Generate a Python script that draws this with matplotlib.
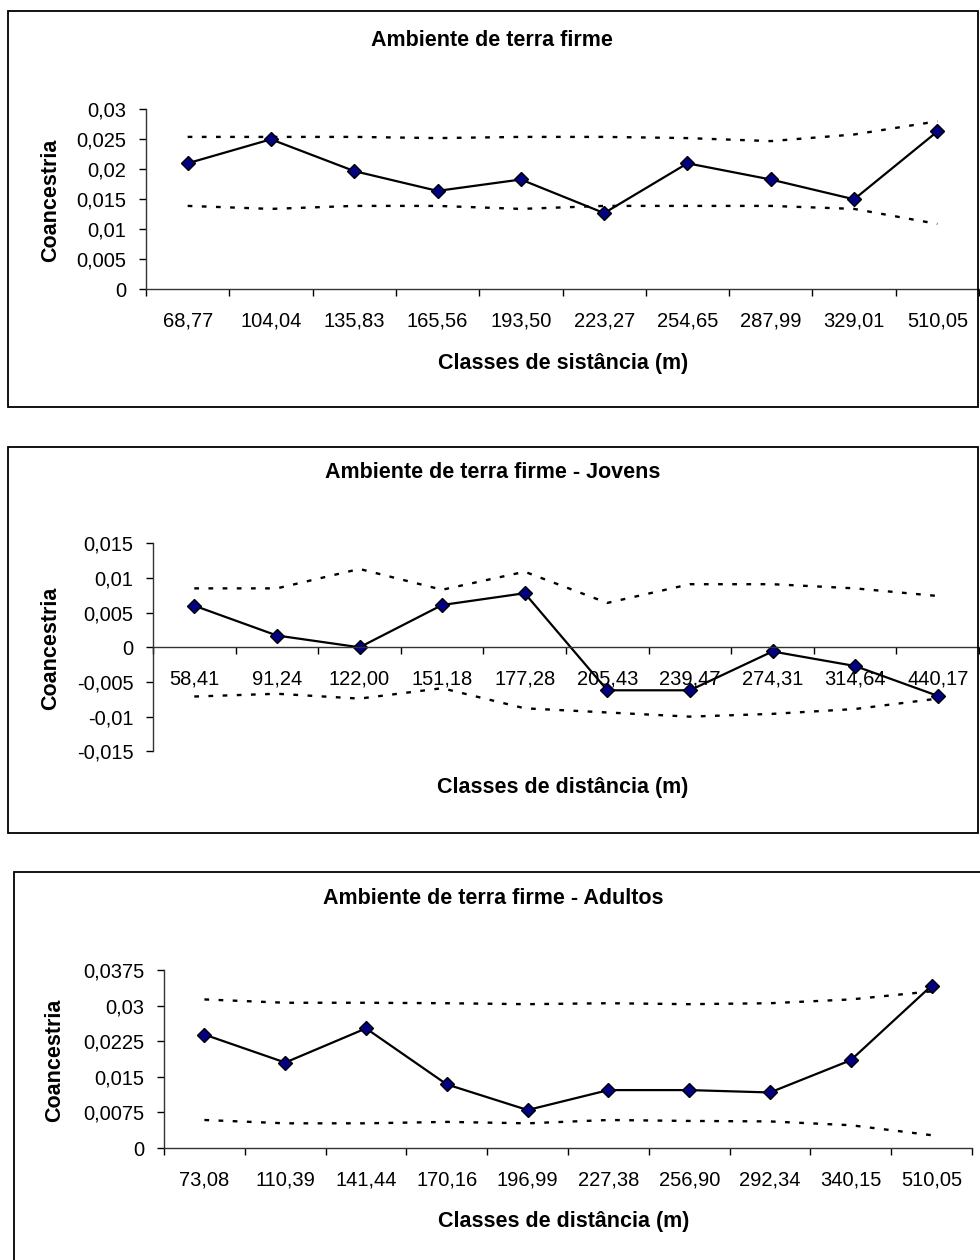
import matplotlib.pyplot as plt
from matplotlib.patches import Rectangle
from matplotlib.ticker import FixedLocator, NullFormatter

plt.rcParams['font.family'] = ['Liberation Sans', 'DejaVu Sans']

# %% data

# ambiente de terra firme (todos)
dist_geral = ['68,77', '104,04', '135,83', '165,56', '193,50',
              '223,27', '254,65', '287,99', '329,01', '510,05']
coanc_geral = [0.0210, 0.0250, 0.0197, 0.0164, 0.0183, 0.0127, 0.0210, 0.0183, 0.0150, 0.0263]
sup_geral = [0.0254, 0.0254, 0.0254, 0.0252, 0.0254, 0.0254, 0.0252, 0.0247, 0.0258, 0.0280]
inf_geral = [0.0139, 0.0134, 0.0139, 0.0139, 0.0134, 0.0139, 0.0139, 0.0139, 0.0134, 0.0109]
yt_geral = [0, 0.005, 0.01, 0.015, 0.02, 0.025, 0.03]
ytl_geral = ['0', '0,005', '0,01', '0,015', '0,02', '0,025', '0,03']

# jovens
dist_jov = ['58,41', '91,24', '122,00', '151,18', '177,28',
            '205,43', '239,47', '274,31', '314,64', '440,17']
coanc_jov = [0.0060, 0.0017, 0.0000, 0.0061, 0.0078, -0.0062, -0.0062, -0.0006, -0.0027, -0.0070]
sup_jov = [0.0085, 0.0085, 0.0113, 0.0083, 0.0109, 0.0064, 0.0091, 0.0091, 0.0085, 0.0074]
inf_jov = [-0.0071, -0.0067, -0.0074, -0.0059, -0.0088, -0.0094, -0.0100, -0.0096, -0.0089, -0.0074]
yt_jov = [-0.015, -0.01, -0.005, 0, 0.005, 0.01, 0.015]
ytl_jov = ['-0,015', '-0,01', '-0,005', '0', '0,005', '0,01', '0,015']

# adultos
dist_adu = ['73,08', '110,39', '141,44', '170,16', '196,99',
            '227,38', '256,90', '292,34', '340,15', '510,05']
coanc_adu = [0.0239, 0.0180, 0.0252, 0.0134, 0.0080, 0.0122, 0.0122, 0.0117, 0.0185, 0.0342]
sup_adu = [0.0313, 0.0306, 0.0306, 0.0305, 0.0303, 0.0305, 0.0303, 0.0305, 0.0313, 0.0330]
inf_adu = [0.0059, 0.0052, 0.0052, 0.0055, 0.0052, 0.0059, 0.0057, 0.0056, 0.0048, 0.0027]
yt_adu = [0, 0.0075, 0.015, 0.0225, 0.03, 0.0375]
ytl_adu = ['0', '0,0075', '0,015', '0,0225', '0,03', '0,0375']

# %% figure (positions in pixels, origin top left)

W, H = 980, 1260
fig = plt.figure(figsize=(W / 100, H / 100), dpi=100)
bold = dict(ha='center', va='center', fontsize=15.5, fontweight='bold')


def px_axes(left, top, right, bottom):
    return fig.add_axes([left / W, 1 - bottom / H, (right - left) / W, (bottom - top) / H])


def px_box(left, top, right, bottom):
    fig.patches.append(Rectangle((left / W, 1 - bottom / H), (right - left) / W, (bottom - top) / H,
                                 transform=fig.transFigure, fill=False, edgecolor='black', lw=1.3))


def panel(ax, dist, coanc, sup, inf, yticks, yticklabels, zero_axis=False):
    if zero_axis:
        ax.spines['bottom'].set_position(('data', 0))
    n = len(dist)
    x = [i + 0.5 for i in range(n)]
    ax.plot(x, sup, color='black', lw=1.7, ls=(0, (2, 4)))
    ax.plot(x, inf, color='black', lw=1.7, ls=(0, (2, 4)))
    ax.plot(x, coanc, color='black', lw=1.6, marker='D', markersize=7,
            markerfacecolor='#000080', markeredgecolor='black', markeredgewidth=1)
    ax.set_xlim(0, n)
    ax.set_ylim(yticks[0], yticks[-1])
    ax.set_xticks(x)
    ax.set_xticklabels(dist, fontsize=14.5)
    ax.xaxis.set_minor_locator(FixedLocator(range(n + 1)))
    ax.xaxis.set_minor_formatter(NullFormatter())
    ax.tick_params(axis='x', which='major', length=0, pad=16)
    ax.tick_params(axis='x', which='minor', length=5, width=1, direction='out')
    ax.set_yticks(yticks)
    ax.set_yticklabels(yticklabels, fontsize=14.5)
    ax.tick_params(axis='y', length=5, width=1, direction='out', pad=9)
    ax.spines['top'].set_visible(False)
    ax.spines['right'].set_visible(False)
    for s in ['left', 'bottom']:
        ax.spines[s].set_linewidth(1)
        ax.spines[s].set_color('#333333')


# %% panel 1
px_box(8, 11, 978, 407)
ax1 = px_axes(146, 109.3, 979, 289.3)
panel(ax1, dist_geral, coanc_geral, sup_geral, inf_geral, yt_geral, ytl_geral)
fig.text(492 / W, 1 - 40 / H, 'Ambiente de terra firme', **bold)
fig.text(563 / W, 1 - 363 / H, 'Classes de sistância (m)', **bold)
fig.text(51 / W, 1 - 200 / H, 'Coancestria', rotation=90, **bold)

# %% panel 2
px_box(8, 447, 978, 833)
ax2 = px_axes(153, 543.3, 979, 751.3)
panel(ax2, dist_jov, coanc_jov, sup_jov, inf_jov, yt_jov, ytl_jov, zero_axis=True)
fig.text(493 / W, 1 - 472 / H, 'Ambiente de terra firme - Jovens', **bold)
fig.text(563 / W, 1 - 788 / H, 'Classes de distância (m)', **bold)
fig.text(51 / W, 1 - 648 / H, 'Coancestria', rotation=90, **bold)

# %% panel 3
px_box(14, 872, 990, 1270)
ax3 = px_axes(164, 970, 972, 1148)
panel(ax3, dist_adu, coanc_adu, sup_adu, inf_adu, yt_adu, ytl_adu)
fig.text(493 / W, 1 - 899 / H, 'Ambiente de terra firme - Adultos', **bold)
fig.text(564 / W, 1 - 1222 / H, 'Classes de distância (m)', **bold)
fig.text(55 / W, 1 - 1060 / H, 'Coancestria', rotation=90, **bold)

fig.savefig('out.png', dpi=100)
